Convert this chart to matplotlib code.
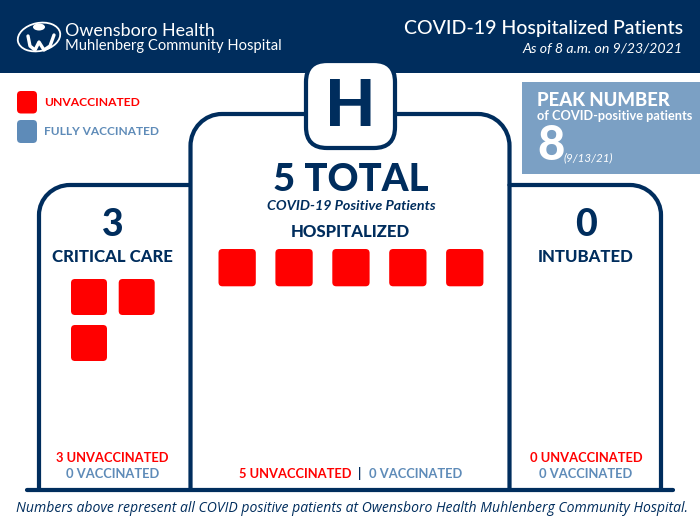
import matplotlib
matplotlib.use("Agg")
import matplotlib.pyplot as plt
from matplotlib.patches import FancyBboxPatch, Rectangle, Ellipse, PathPatch
from matplotlib.path import Path

NAVY = "#002D5D"
RED = "#FF0000"
BLUE = "#5E8BB8"
PEAK = "#7BA0C4"

panels = ["CRITICAL CARE", "HOSPITALIZED", "INTUBATED"]
unvaccinated = [3, 5, 0]
vaccinated = [0, 0, 0]
total_label = "5 TOTAL"
peak_value = "8"
peak_date = "(9/13/21)"

plt.rcParams["font.family"] = ["Lato", "DejaVu Sans"]
fig = plt.figure(figsize=(7, 5.25), dpi=100)
ax = fig.add_axes([0, 0, 1, 1])
ax.set_xlim(0, 700)
ax.set_ylim(525, 0)
ax.axis("off")
PX = 0.72


def t(x, y, s, size, color=NAVY, weight="normal", style="normal", ha="center", **kw):
    return ax.text(x, y, s, fontsize=size, color=color, fontweight=weight,
                   fontstyle=style, ha=ha, va="center", **kw)


def tile(x, y, w, h, color, r=4):
    ax.add_patch(FancyBboxPatch((x + r, y + r), w - 2 * r, h - 2 * r,
                                boxstyle=f"round,pad={r},rounding_size={r}",
                                fc=color, ec="none", zorder=3))


def outline(verts_codes):
    verts, codes = zip(*verts_codes)
    ax.add_patch(PathPatch(Path(verts, codes), fc="none", ec=NAVY, lw=4.2 * PX,
                           capstyle="round", joinstyle="round", zorder=2))


M, L, C = Path.MOVETO, Path.LINETO, Path.CURVE4
k = 0.55

# header
ax.add_patch(Rectangle((0, 0), 700, 72.5, fc=NAVY, ec="none", zorder=1))

# simplified logo mark
ax.add_patch(Ellipse((39, 37), 43, 28, angle=-12, fc="none", ec="white", lw=1.3, zorder=3))
ax.add_patch(Ellipse((39, 27), 12, 7, fc="white", ec="none", zorder=3))
logo_x = [28, 30, 35, 39, 44, 50, 54]
logo_y = [36, 46, 50, 42, 50, 46, 35]
ax.plot(logo_x, logo_y, color="white", lw=2.4, solid_capstyle="round", zorder=3)

t(65, 30.5, "Owensboro Health", 12.9, "white", ha="left")
t(65, 46, "Muhlenberg Community Hospital", 10.6, "white", ha="left")
t(683, 28.5, "COVID-19 Hospitalized Patients", 14.0, "white", ha="right", weight="medium")
t(683, 49, "As of 8 a.m. on 9/23/2021", 10.2, "white", ha="right", style="italic")

# legend
tile(17, 91, 20, 22.5, RED)
tile(17, 120, 20, 23, BLUE)
t(44.5, 102, "UNVACCINATED", 8.7, RED, weight="bold", ha="left")
t(44, 131.5, "FULLY VACCINATED", 8.55, BLUE, weight="bold", ha="left")

# peak box
ax.add_patch(Rectangle((522, 82), 178, 92, fc=PEAK, ec="none", zorder=1))
t(537, 101, "PEAK NUMBER", 13.3, "white", weight="black", ha="left")
t(537, 116.5, "of COVID-positive patients", 9.2, "white", weight="bold", ha="left")
t(537, 146, peak_value, 34, "white", weight="black", ha="left")
t(564, 158, peak_date, 8.4, "white", style="italic", ha="left")

# panel outlines
outline([((39, 490), M), ((39, 215), L),
         ((39, 215 - 30 * k), C), ((70 - 31 * k, 185), C), ((70, 185), C),
         ((190, 185), L)])
outline([((190.5, 490), M), ((190.5, 146), L),
         ((190.5, 146 - 32 * k), C), ((222 - 32 * k, 114), C), ((222, 114), C),
         ((478, 114), L),
         ((478 + 32 * k, 114), C), ((509.5, 146 - 32 * k), C), ((509.5, 146), C),
         ((509.5, 490), L)])
outline([((509.5, 185), M), ((630, 185), L),
         ((630 + 31 * k, 185), C), ((661, 215 - 30 * k), C), ((661, 215), C),
         ((661, 490), L)])
outline([((27, 490), M), ((673, 490), L)])

# H badge
ax.add_patch(FancyBboxPatch((327, 82), 47, 45, boxstyle="round,pad=21,rounding_size=21",
                            fc="white", ec=NAVY, lw=4.2 * PX, zorder=4))
t(350.5, 107, "H", 47, NAVY, weight="black", zorder=5)

# panel headings
t(351, 180, total_label, 27.6, NAVY, weight="black")
t(351, 205.5, "COVID-19 Positive Patients", 10.3, NAVY, weight="bold", style="italic")
t(350.5, 232, panels[1], 12.1, NAVY, weight="black")
t(112.5, 225, str(unvaccinated[0]), 27, NAVY, weight="black")
t(112.5, 257, panels[0], 12.1, NAVY, weight="black")
t(586, 225, str(unvaccinated[2]), 27, NAVY, weight="black")
t(586, 257, panels[2], 12.1, NAVY, weight="black")

# tiles: one per unvaccinated patient
for i in range(unvaccinated[0]):
    col, row = i % 2, i // 2
    tile(71 + col * 47.7, 279 + row * 46, 36, 36, RED)
for i in range(unvaccinated[1]):
    tile(218.5 + i * 56.9, 249, 37.3, 37.3, RED)
for i in range(unvaccinated[2]):
    tile(530 + i * 47.7, 279, 36, 36, RED)

# panel footers
t(112.5, 457.5, f"{unvaccinated[0]} UNVACCINATED", 9.3, RED, weight="bold")
t(112.5, 473.5, f"{vaccinated[0]} VACCINATED", 9.3, BLUE, weight="bold")
t(586, 457.5, f"{unvaccinated[2]} UNVACCINATED", 9.3, RED, weight="bold")
t(586, 473.5, f"{vaccinated[2]} VACCINATED", 9.3, BLUE, weight="bold")
t(239, 473.5, f"{unvaccinated[1]} UNVACCINATED", 9.3, RED, weight="bold", ha="left")
t(360, 473.5, "|", 9.3, NAVY, weight="bold")
t(369, 473.5, f"{vaccinated[1]} VACCINATED", 9.3, BLUE, weight="bold", ha="left")

# footnote
t(16, 508.5, "Numbers above represent all COVID positive patients at Owensboro Health Muhlenberg Community Hospital.",
  10.1, NAVY, style="italic", ha="left", family=["Open Sans", "DejaVu Sans"])

fig.savefig("out.png", dpi=100)
